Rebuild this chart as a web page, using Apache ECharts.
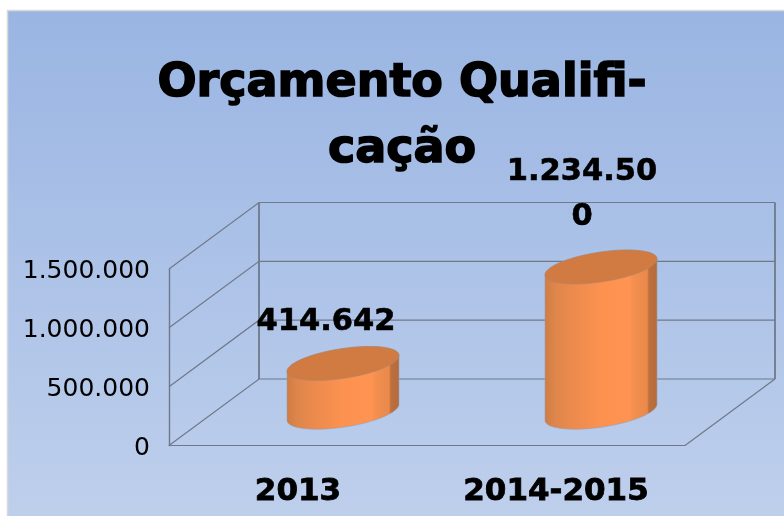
<!DOCTYPE html>
<html>
<head>
<meta charset="utf-8">
<style>html,body{margin:0;padding:0;background:#fff}#c{width:784px;height:516px}</style>
<script src="https://cdn.jsdelivr.net/npm/echarts@6/dist/echarts.min.js"></script>
</head>
<body>
<div id="c"></div>
<script>
const titleText = 'Orçamento Qualifi-\ncação';
const categories = ['2013', '2014-2015'];
const values = [414642, 1234500];
const dataLabels = ['414.642', '1.234.50\n0'];
const ticks = [0, 500000, 1000000, 1500000];
const FONT = '"DejaVu Sans"';
const DEPTH = [90, -66.5];
const LINE = '#6f7989';

const chart = echarts.init(document.getElementById('c'), null, {renderer: 'canvas'});

function ellipsePts(cx, cy, a, b, k, t0, t1, n) {
  const pts = [];
  for (let i = 0; i <= n; i++) {
    const t = t0 + (t1 - t0) * i / n;
    pts.push([cx + a * Math.cos(t), cy - k * Math.cos(t) - b * Math.sin(t)]);
  }
  return pts;
}
const bodyFill = new echarts.graphic.LinearGradient(0, 0, 1, 0, [
  {offset: 0, color: '#cf7b44'}, {offset: 0.08, color: '#dc854a'},
  {offset: 0.2, color: '#e8894c'}, {offset: 0.38, color: '#f48e4f'},
  {offset: 0.5, color: '#fd9250'}, {offset: 0.76, color: '#ff9351'},
  {offset: 0.78, color: '#f49050'},
  {offset: 0.91, color: '#e9894b'}, {offset: 0.925, color: '#bd6f3e'},
  {offset: 1, color: '#b56b3c'}
]);

const option = {
  animation: false,
  graphic: [{
    type: 'rect', z: -10, silent: true,
    shape: {x: 7.5, y: 10.5, width: 790, height: 520},
    style: {
      fill: new echarts.graphic.LinearGradient(0, 0, 0, 1, [
        {offset: 0, color: '#9ab5e3'}, {offset: 1, color: '#bfd0ec'}
      ]),
      stroke: '#d9d9d9', lineWidth: 1.5
    }
  }],
  title: {
    text: titleText, left: 397, top: 46, textAlign: 'center',
    textStyle: {fontFamily: FONT, fontWeight: 'bold', fontSize: 46, lineHeight: 66, color: '#000',
      textBorderColor: '#000', textBorderWidth: 1.6}
  },
  grid: {left: 169, top: 269, width: 516, height: 176.5, containLabel: false, outerBoundsMode: 'none'},
  xAxis: {
    type: 'category', data: categories,
    axisLine: {show: true, lineStyle: {color: LINE, width: 1}},
    axisTick: {show: false},
    axisLabel: {margin: 31, fontFamily: FONT, fontWeight: 'bold', fontSize: 31, color: '#000',
      textBorderColor: '#000', textBorderWidth: 0.8}
  },
  yAxis: {
    type: 'value', min: 0, max: 1500000, interval: 500000,
    splitLine: {show: false},
    axisLine: {show: true, lineStyle: {color: LINE, width: 1.4}},
    axisTick: {show: false},
    axisLabel: {
      margin: 19, fontFamily: FONT, fontSize: 25, color: '#000',
      verticalAlign: 'top', lineHeight: 5,
      formatter: v => String(v).replace(/\B(?=(\d{3})+$)/g, '.')
    }
  },
  series: [{
    type: 'custom', z: 1, silent: true, clip: false,
    data: ticks.map(t => [0, t]),
    encode: {x: 0, y: 1},
    renderItem(params, api) {
      const rect = params.coordSys;
      const y = api.coord([0, api.value(1)])[1];
      const x0 = rect.x, x1 = rect.x + rect.width;
      const style = {stroke: LINE, lineWidth: 1.2, fill: null};
      const ch = [
        {type: 'polyline', shape: {points: [[x0, y], [x0 + DEPTH[0], y + DEPTH[1]], [x1 + DEPTH[0], y + DEPTH[1]]]}, style}
      ];
      if (params.dataIndex === 0) {
        const yTop = rect.y;
        ch.push({type: 'line', shape: {x1: x0 + DEPTH[0], y1: y + DEPTH[1], x2: x0 + DEPTH[0], y2: yTop + DEPTH[1]}, style: {stroke: LINE, lineWidth: 1.8}});
        ch.push({type: 'line', shape: {x1: x1 + DEPTH[0], y1: y + DEPTH[1], x2: x1 + DEPTH[0], y2: yTop + DEPTH[1]}, style: {stroke: LINE, lineWidth: 1.8}});
        ch.push({type: 'line', shape: {x1: x1, y1: y, x2: x1 + DEPTH[0], y2: y + DEPTH[1]}, style});
      }
      return {type: 'group', children: ch};
    }
  }, {
    type: 'custom', z: 2, silent: true, clip: false,
    data: values.map((v, i) => [i, v, dataLabels[i]]),
    encode: {x: 0, y: 1},
    renderItem(params, api) {
      const i = api.value(0);
      const base = api.coord([i, 0]);
      const top = api.coord([i, api.value(1)]);
      const cx = base[0] + DEPTH[0] / 2;
      const yb = base[1] + DEPTH[1] / 2;
      const yt = top[1] + DEPTH[1] / 2;
      const a = 56, b = 15, k = 8;
      const body = ellipsePts(cx, yb, a, b, k, Math.PI, 2 * Math.PI, 40)
        .concat(ellipsePts(cx, yt, a, b, k, 0, Math.PI, 40));
      const cap = ellipsePts(cx, yt, a, b, k, 0, 2 * Math.PI, 80);
      return {type: 'group', children: [
        {type: 'polygon', shape: {points: body}, style: {fill: bodyFill, stroke: '#9a9fb0', lineWidth: 0.6}},
        {type: 'polygon', shape: {points: cap}, style: {fill: '#d17b43', stroke: '#a9866f', lineWidth: 0.6}},
        {type: 'text', style: {
          text: dataLabels[params.dataIndex], x: cx - (params.dataIndex ? 19 : 17), y: yt - (params.dataIndex ? 27 : 19),
          align: 'center', verticalAlign: 'bottom',
          font: 'bold 30.5px ' + FONT, lineHeight: 45, fill: '#000', stroke: '#000', lineWidth: 0.6
        }}
      ]};
    }
  }]
};
chart.setOption(option);
</script>
</body>
</html>
